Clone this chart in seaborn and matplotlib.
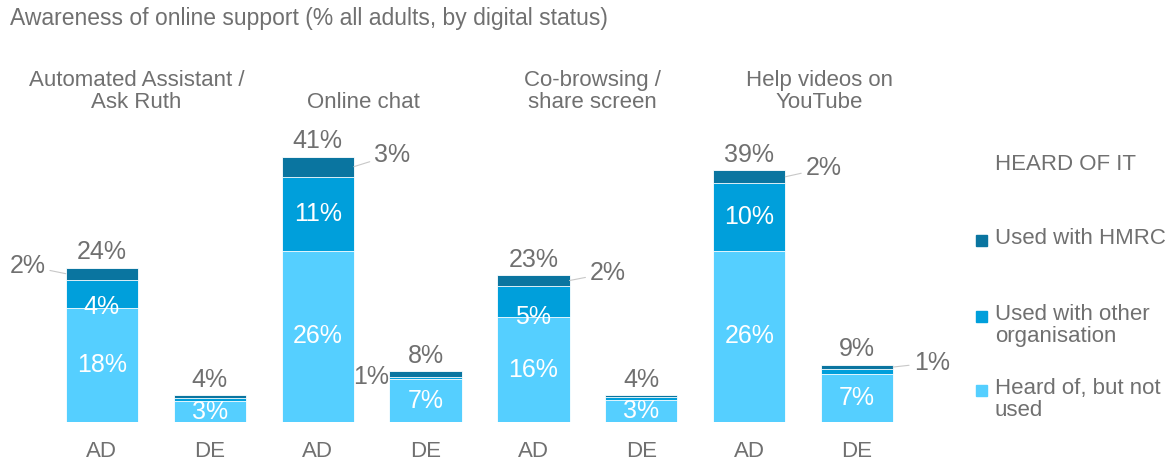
import matplotlib
matplotlib.use("Agg")
import matplotlib.pyplot as plt
from matplotlib.patches import Rectangle
from matplotlib.transforms import blended_transform_factory
import pandas as pd
import seaborn as sns

# Awareness of online support (% all adults), bars ordered group by group: AD, DE
groups = ["Automated Assistant /\nAsk Ruth", "Online chat",
          "Co-browsing /\nshare screen", "Help videos on\nYouTube"]
statuses = ["AD", "DE"]
heard = [17.6, 3.2, 26.3, 6.6, 16.1, 3.4, 26.3, 7.4]
other = [4.3, 0.5, 11.4, 0.35, 4.8, 0.4, 10.4, 0.7]
hmrc = [1.8, 0.4, 3.1, 0.9, 1.7, 0.35, 2.0, 0.7]
series = ["Used with HMRC", "Used with other\norganisation", "Heard of, but not\nused"]

colors = {"hmrc": "#0a75a0", "other": "#009fdb", "heard": "#55cfff"}
GREY = "#707070"

# side of the outside HMRC label for each bar (None = no label), gap from bar edge
hmrc_side = ["left", None, "right", "left", "right", None, "right", "right"]
hmrc_gap = [0.19, 0, 0.19, 0.0, 0.19, 0, 0.19, 0.19]
title_x = [0.32, 2.42, 4.55, 6.65]

bars = [f"{g}|{s}" for g in range(len(groups)) for s in statuses]
df = pd.DataFrame({"bar": bars, "heard": heard, "other": other, "hmrc": hmrc})
df["heard_other"] = df["heard"] + df["other"]
df["total"] = df["heard_other"] + df["hmrc"]

sns.set_style("white")
plt.rcParams["font.family"] = ["Liberation Sans", "DejaVu Sans"]

W, H = 1172, 466
fig = plt.figure(figsize=(W / 100, H / 100), dpi=100)
ax = fig.add_axes([48 / W, 44 / H, 863 / W, 322 / H])

# stacked bars: draw cumulative totals, tallest first
for col, key in [("total", "hmrc"), ("heard_other", "other"), ("heard", "heard")]:
    sns.barplot(data=df, x="bar", y=col, order=bars, color=colors[key],
                saturation=1, width=0.67, errorbar=None,
                edgecolor="white", linewidth=0.6, ax=ax)

ax.set_xlim(-0.5, len(bars) - 0.5)
ax.set_ylim(0, 49.5)
ax.set_yticks([])
ax.set_xlabel("")
ax.set_ylabel("")
ax.set_xticks(range(len(bars)))
ax.set_xticklabels(statuses * len(groups), color=GREY, fontsize=16)
ax.tick_params(axis="x", length=0, pad=14)
sns.despine(ax=ax, left=True, bottom=True)

half = 0.67 / 2
for i, row in df.iterrows():
    ax.text(i, row["heard"] / 2, f"{round(row['heard'])}%", color="white",
            fontsize=18, ha="center", va="center")
    if i % 2 == 0:
        # small segments get their label pushed down onto the boundary
        y = row["heard"] + (row["other"] / 2 if row["other"] > 6 else 0.05)
        ax.text(i, y, f"{round(row['other'])}%",
                color="white", fontsize=18, ha="center", va="center")
    ax.annotate(f"{round(row['total'])}%", (i, row["total"]), xytext=(0, 6),
                textcoords="offset points", ha="center", va="baseline",
                color=GREY, fontsize=18)
    side = hmrc_side[i]
    if side:
        sgn = -1 if side == "left" else 1
        edge = i + sgn * half
        gap = hmrc_gap[i]
        arrow = None
        if gap > 0:
            arrow = dict(arrowstyle="-", color="#c8c8c8", lw=0.8, shrinkA=1, shrinkB=0)
        ax.annotate(f"{round(row['hmrc'])}%", (edge, row["heard_other"] + row["hmrc"] / 2),
                    xytext=(edge + sgn * gap, row["total"] + (0.3 if gap > 0 else -1.0)),
                    ha="right" if side == "left" else "left", va="center",
                    color=GREY, fontsize=18, arrowprops=arrow)

tr = blended_transform_factory(ax.transData, fig.transFigure)
for x, g in zip(title_x, groups):
    ax.text(x, 1 - 113 / H, g, transform=tr, ha="center", va="bottom",
            color=GREY, fontsize=16, linespacing=1.05)

fig.text(10 / W, 1 - 18 / H, "Awareness of online support (% all adults, by digital status)",
         color=GREY, fontsize=16.5, va="center")

# legend
fig.text(995 / W, 1 - 165 / H, "HEARD OF IT", color=GREY, fontsize=16, va="center")
for y, lab, key in zip([240, 316, 390], series, ["hmrc", "other", "heard"]):
    fig.patches.append(Rectangle((976 / W, 1 - (y + 5.5) / H), 11 / W, 11 / H,
                                 transform=fig.transFigure, color=colors[key]))
    fig.text(995 / W, 1 - (y - 12) / H, lab, color=GREY, fontsize=16,
             va="top", linespacing=1.05)

fig.savefig("out.png", dpi=100)
